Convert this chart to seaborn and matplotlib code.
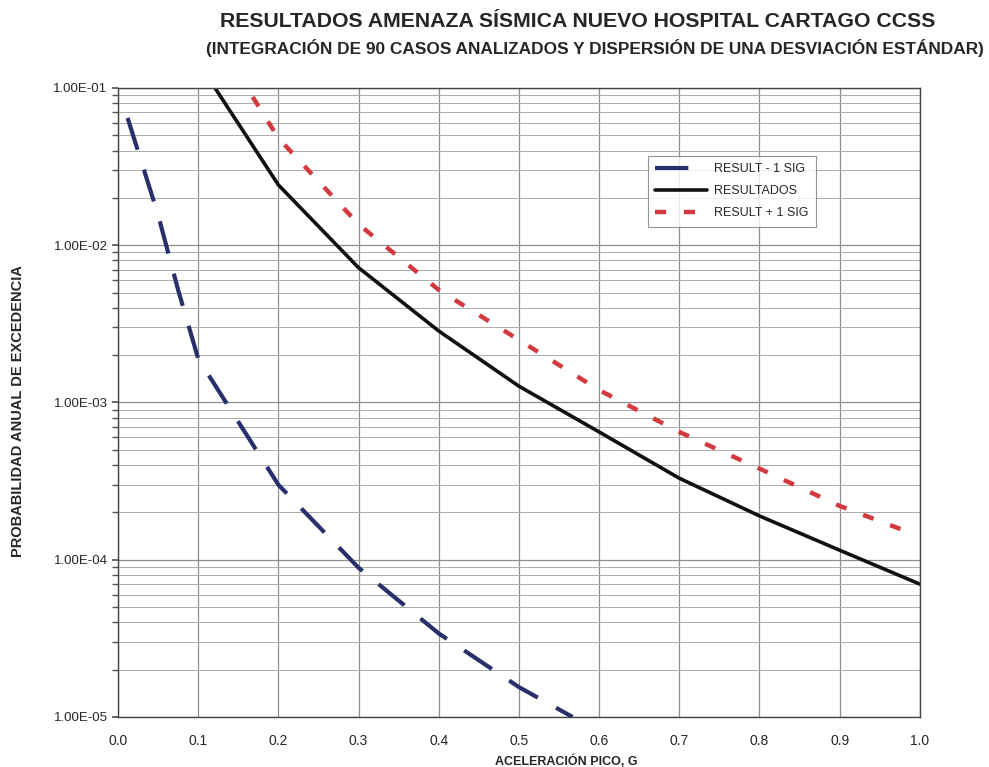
import matplotlib
matplotlib.use("Agg")
import matplotlib.pyplot as plt
import seaborn as sns
import pandas as pd
import numpy as np
from matplotlib.ticker import FixedLocator, LogLocator, NullFormatter

sns.set_theme(style="white")
plt.rcParams['font.family'] = ['Liberation Sans', 'DejaVu Sans']

# Data
x_minus = [0.012, 0.05, 0.075, 0.1, 0.2, 0.3, 0.4, 0.5, 0.567]
y_minus = [6.45e-2, 1.56e-2, 5.2e-3, 1.9e-3, 3.0e-4, 8.9e-5, 3.4e-5, 1.55e-5, 1.0e-5]

x_res = [0.121, 0.2, 0.3, 0.4, 0.5, 0.6, 0.7, 0.8, 0.9, 1.0]
y_res = [1.0e-1, 2.42e-2, 7.2e-3, 2.85e-3, 1.27e-3, 6.5e-4, 3.3e-4, 1.9e-4, 1.15e-4, 7.0e-5]

x_plus = [0.168, 0.2, 0.3, 0.4, 0.5, 0.6, 0.7, 0.8, 0.9, 0.995]
y_plus = [8.77e-2, 4.8e-2, 1.36e-2, 5.2e-3, 2.5e-3, 1.2e-3, 6.5e-4, 3.8e-4, 2.2e-4, 1.44e-4]

labels = ["RESULT - 1 SIG", "RESULTADOS", "RESULT + 1 SIG"]
x_ticks = [0.0, 0.1, 0.2, 0.3, 0.4, 0.5, 0.6, 0.7, 0.8, 0.9, 1.0]
x_tick_labels = ["0.0", "0.1", "0.2", "0.3", "0.4", "0.5", "0.6", "0.7", "0.8", "0.9", "1.0"]
y_ticks = [1e-5, 1e-4, 1e-3, 1e-2, 1e-1]
y_tick_labels = ["1.00E-05", "1.00E-04", "1.00E-03", "1.00E-02", "1.00E-01"]

fig = plt.figure(figsize=(9.89, 7.67), dpi=100)
ax = fig.add_axes([0.1193, 0.0652, 0.8107, 0.8201])

df_m = pd.DataFrame({"x": x_minus, "y": y_minus})
df_r = pd.DataFrame({"x": x_res, "y": y_res})
df_p = pd.DataFrame({"x": x_plus, "y": y_plus})

sns.lineplot(data=df_m, x="x", y="y", ax=ax, color="#27306b", lw=3.0,
             label=labels[0])
sns.lineplot(data=df_r, x="x", y="y", ax=ax, color="#111111", lw=2.6,
             label=labels[1])
sns.lineplot(data=df_p, x="x", y="y", ax=ax, color="#d23a3f", lw=3.2,
             label=labels[2])
lines = ax.get_lines()
lines[0].set_dashes([8, 5])
lines[2].set_dashes([2.5, 4])

ax.set_yscale("log")
ax.set_xlim(0, 1.0)
ax.set_ylim(1e-5, 1e-1)

ax.set_xticks(x_ticks)
ax.set_xticklabels(x_tick_labels, fontsize=10)
ax.yaxis.set_major_locator(FixedLocator(y_ticks))
ax.set_yticklabels(y_tick_labels, fontsize=9.5)
ax.yaxis.set_minor_locator(LogLocator(base=10, subs=np.arange(2, 10)))
ax.yaxis.set_minor_formatter(NullFormatter())

ax.grid(True, which="major", axis="both", color="#8f8f8f", lw=0.9)
ax.grid(True, which="minor", axis="y", color="#ababab", lw=0.7)
ax.tick_params(axis="y", which="both", left=True, length=4, color="#555555")
ax.tick_params(axis="x", which="both", bottom=False, pad=6)
for s in ax.spines.values():
    s.set_color("#444444")
    s.set_linewidth(1.0)

ax.set_xlabel("")
ax.set_ylabel("")

fig.text(0.584, 0.972, "RESULTADOS AMENAZA SÍSMICA NUEVO HOSPITAL CARTAGO CCSS",
         ha="center", va="center", fontsize=15.3, fontweight="bold")
fig.text(0.602, 0.937, "(INTEGRACIÓN DE 90 CASOS ANALIZADOS Y DISPERSIÓN DE UNA DESVIACIÓN ESTÁNDAR)",
         ha="center", va="center", fontsize=12.4, fontweight="bold")
fig.text(0.573, 0.008, "ACELERACIÓN PICO, G", ha="center", va="center",
         fontsize=9, fontweight="bold")
fig.text(0.018, 0.464, "PROBABILIDAD ANUAL DE EXCEDENCIA", ha="center", va="center",
         rotation=90, fontsize=10.5, fontweight="bold")

leg = ax.legend(loc="upper left", bbox_to_anchor=(0.653, 0.902), fontsize=9,
                frameon=True, fancybox=False, handlelength=4.1, borderpad=0.6,
                labelspacing=0.8, handletextpad=0.6)
leg.get_frame().set_edgecolor("#777777")
leg.get_frame().set_linewidth(0.8)

fig.savefig("out.png", dpi=100)
